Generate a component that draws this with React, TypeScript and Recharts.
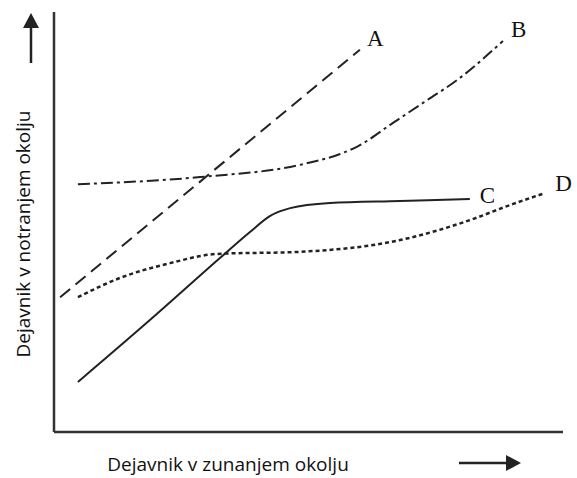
import React from 'react'
import { LineChart, Line, XAxis, YAxis, LabelList } from 'recharts'

// values on a 0-100 scale for both axes (no ticks in the original)
const lineA = [
  { x: 1.2, y: 32.1 },
  { x: 60.1, y: 91.0 },
]

const lineB = [
  { x: 4.7, y: 59.0 },
  { x: 28.7, y: 60.7 },
  { x: 48.3, y: 63.6 },
  { x: 56.2, y: 66.2 },
  { x: 59.5, y: 67.9 },
  { x: 66.6, y: 73.6 },
  { x: 73.3, y: 79.0 },
  { x: 79.2, y: 83.8 },
  { x: 88.2, y: 93.1 },
]

const lineC = [
  { x: 4.7, y: 11.9 },
  { x: 18.9, y: 26.7 },
  { x: 32.6, y: 41.4 },
  { x: 38.5, y: 47.6 },
  { x: 42.4, y: 51.4 },
  { x: 46.4, y: 53.3 },
  { x: 54.2, y: 54.5 },
  { x: 68.0, y: 55.0 },
  { x: 81.7, y: 55.5 },
]

const lineD = [
  { x: 4.7, y: 32.1 },
  { x: 13.0, y: 36.7 },
  { x: 22.8, y: 40.2 },
  { x: 32.0, y: 42.4 },
  { x: 48.3, y: 42.9 },
  { x: 68.0, y: 45.7 },
  { x: 81.1, y: 50.2 },
  { x: 90.2, y: 54.3 },
  { x: 96.5, y: 56.9 },
]

const xLabel = 'Dejavnik v zunanjem okolju'
const yLabel = 'Dejavnik v notranjem okolju'

const ink = '#222'

// draws the series letter next to the last point only
const endLabel = (name: string, count: number, dx: number, dy: number) => (props: any) => {
  const { x, y, index } = props
  if (index !== count - 1) return null
  return (
    <text x={x + dx} y={y + dy} fontFamily="Liberation Serif, serif" fontSize={23} fill="#111">
      {name}
    </text>
  )
}

export default function App() {
  return (
    <div style={{ position: 'absolute', left: 0, top: 0, width: 577, height: 478, background: '#fff' }}>
      <LineChart width={577} height={478} margin={{ top: 12, right: 14, bottom: 45, left: 53 }}>
        <XAxis
          type="number"
          dataKey="x"
          domain={[0, 100]}
          allowDataOverflow
          height={1}
          tick={false}
          tickLine={false}
          axisLine={{ stroke: '#333', strokeWidth: 2.5 }}
        />
        <YAxis
          type="number"
          dataKey="y"
          domain={[0, 100]}
          allowDataOverflow
          width={1}
          tick={false}
          tickLine={false}
          axisLine={{ stroke: '#333', strokeWidth: 2.5 }}
        />
        <Line data={lineA} dataKey="y" type="linear" stroke={ink} strokeWidth={2} strokeDasharray="13 7" dot={false} isAnimationActive={false}>
          <LabelList dataKey="y" content={endLabel('A', lineA.length, 7, -4)} />
        </Line>
        <Line data={lineB} dataKey="y" type="monotone" stroke={ink} strokeWidth={2} strokeDasharray="12 4 3 4" dot={false} isAnimationActive={false}>
          <LabelList dataKey="y" content={endLabel('B', lineB.length, 8, -4)} />
        </Line>
        <Line data={lineC} dataKey="y" type="monotone" stroke={ink} strokeWidth={2} dot={false} isAnimationActive={false}>
          <LabelList dataKey="y" content={endLabel('C', lineC.length, 10, 4)} />
        </Line>
        <Line data={lineD} dataKey="y" type="monotone" stroke={ink} strokeWidth={2.5} strokeDasharray="4 3" dot={false} isAnimationActive={false}>
          <LabelList dataKey="y" content={endLabel('D', lineD.length, 10, -2)} />
        </Line>
      </LineChart>
      {/* axis titles and arrows */}
      <svg width={577} height={478} style={{ position: 'absolute', left: 0, top: 0, pointerEvents: 'none' }}>
        <text x={228} y={471} textAnchor="middle" fontFamily="Open Sans, sans-serif" fontSize={19} fill="#111">
          {xLabel}
        </text>
        <text
          x={0}
          y={0}
          transform="translate(30 234) rotate(-90)"
          textAnchor="middle"
          fontFamily="Open Sans, sans-serif"
          fontSize={19}
          fill="#111"
        >
          {yLabel}
        </text>
        <line x1={31} y1={63} x2={31} y2={26} stroke="#222" strokeWidth={2.5} />
        <polygon points="31,13 23,28 39,28" fill="#222" />
        <line x1={459} y1={463} x2={508} y2={463} stroke="#222" strokeWidth={2.5} />
        <polygon points="521,463 506,455 506,471" fill="#222" />
      </svg>
    </div>
  )
}
